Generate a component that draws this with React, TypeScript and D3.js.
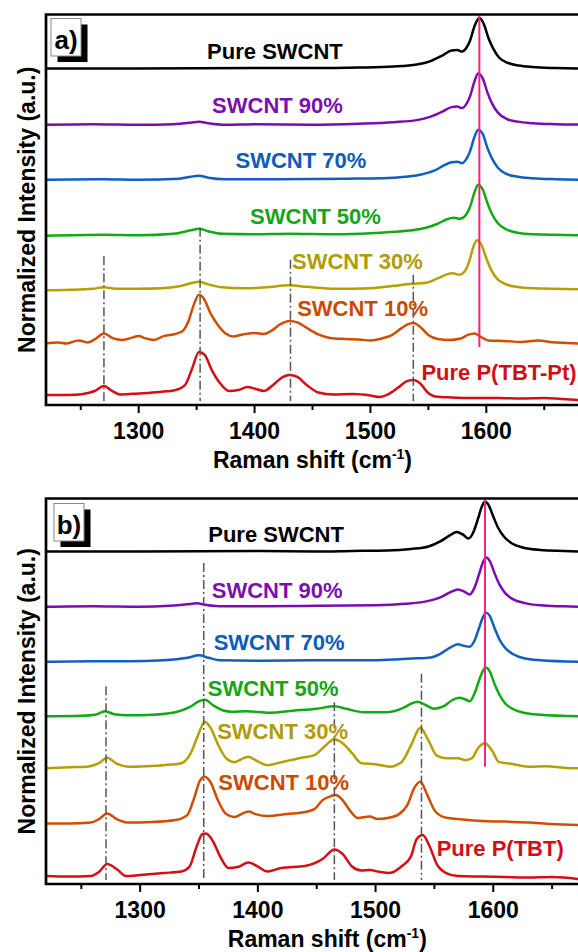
import React from 'react';
import * as d3 from 'd3';

type Pt = [number, number];

// ---------- tick values ----------
const majorTicks = [1300, 1400, 1500, 1600];
const minorTicks = [1250, 1350, 1450, 1550, 1650];

// ---------- panel a spectra: [Raman shift, intensity above own baseline (a.u.)] ----------
const aPureSWCNT: Pt[] = [
  [1220, 0], [1300, 0], [1400, 0.01], [1450, 0.01], [1490, 0.02], [1520, 0.04], [1540, 0.08], [1552, 0.15],
  [1562, 0.26], [1570, 0.36], [1575, 0.37], [1579, 0.34], [1583, 0.42], [1586, 0.56], [1590, 0.86], [1594, 1.01],
  [1598, 0.88], [1602, 0.6], [1606, 0.4], [1611, 0.22], [1618, 0.12], [1628, 0.06], [1640, 0.03], [1660, 0.01], [1680, 0],
];
const aSW90: Pt[] = [
  [1220, 0], [1260, 0.01], [1300, 0], [1330, 0.01], [1345, 0.04], [1352, 0.06], [1360, 0.03], [1375, 0], [1400, 0.01],
  [1450, 0], [1490, 0.02], [1520, 0.05], [1540, 0.09], [1552, 0.16], [1562, 0.26], [1570, 0.35], [1575, 0.36],
  [1579, 0.33], [1583, 0.42], [1586, 0.57], [1590, 0.88], [1593, 1.02], [1597, 0.92], [1601, 0.64], [1605, 0.42],
  [1610, 0.24], [1617, 0.12], [1627, 0.06], [1640, 0.03], [1660, 0.01], [1680, 0],
];
const aSW70: Pt[] = [
  [1220, 0], [1270, 0.01], [1300, 0], [1335, 0.02], [1345, 0.06], [1352, 0.08], [1360, 0.04], [1375, 0.01],
  [1420, 0.01], [1480, 0.02], [1510, 0.03], [1530, 0.06], [1545, 0.11], [1555, 0.18], [1563, 0.28], [1570, 0.35],
  [1575, 0.36], [1579, 0.33], [1583, 0.42], [1586, 0.57], [1590, 0.87], [1593, 1.0], [1597, 0.91], [1601, 0.63],
  [1605, 0.42], [1610, 0.24], [1617, 0.12], [1627, 0.06], [1640, 0.03], [1660, 0.01], [1680, 0],
];
const aSW50: Pt[] = [
  [1220, 0], [1270, 0.02], [1300, 0.01], [1330, 0.04], [1345, 0.11], [1352, 0.14], [1360, 0.09], [1372, 0.04],
  [1400, 0.03], [1430, 0.04], [1470, 0.03], [1500, 0.05], [1520, 0.08], [1536, 0.11], [1548, 0.16], [1558, 0.24],
  [1566, 0.33], [1572, 0.36], [1577, 0.34], [1581, 0.38], [1586, 0.58], [1590, 0.88], [1593, 1.02], [1597, 0.92],
  [1601, 0.65], [1605, 0.43], [1610, 0.25], [1617, 0.13], [1627, 0.06], [1640, 0.03], [1680, 0.01],
];
const aSW30: Pt[] = [
  [1220, 0], [1240, 0.01], [1260, 0.03], [1270, 0.06], [1280, 0.03], [1300, 0.03], [1320, 0.04], [1335, 0.08],
  [1345, 0.14], [1352, 0.17], [1360, 0.12], [1372, 0.06], [1390, 0.04], [1410, 0.06], [1430, 0.1], [1445, 0.07],
  [1470, 0.03], [1500, 0.04], [1520, 0.09], [1536, 0.13], [1548, 0.15], [1558, 0.24], [1566, 0.32], [1571, 0.34],
  [1577, 0.31], [1581, 0.37], [1585, 0.56], [1589, 0.88], [1592, 1.0], [1596, 0.9], [1600, 0.64], [1604, 0.42],
  [1609, 0.24], [1616, 0.13], [1626, 0.07], [1640, 0.04], [1680, 0.02],
];
const aSW10: Pt[] = [
  [1220, 0], [1230, 0.02], [1238, 0], [1248, 0.06], [1256, 0.02], [1262, 0.08], [1270, 0.2], [1278, 0.1],
  [1286, 0.07], [1295, 0.12], [1300, 0.15], [1306, 0.1], [1313, 0.07], [1322, 0.15], [1332, 0.19], [1338, 0.25],
  [1343, 0.45], [1348, 0.8], [1352, 0.97], [1356, 0.9], [1362, 0.6], [1368, 0.38], [1375, 0.2], [1382, 0.14],
  [1390, 0.18], [1400, 0.21], [1408, 0.19], [1415, 0.26], [1422, 0.38], [1430, 0.45], [1437, 0.42], [1445, 0.31],
  [1455, 0.18], [1465, 0.11], [1478, 0.09], [1490, 0.08], [1500, 0.06], [1510, 0.1], [1518, 0.16], [1526, 0.29],
  [1532, 0.38], [1537, 0.41], [1543, 0.33], [1550, 0.17], [1558, 0.09], [1568, 0.07], [1578, 0.1], [1584, 0.17],
  [1590, 0.2], [1596, 0.12], [1602, 0.06], [1615, 0.05], [1630, 0.03], [1645, 0.06], [1655, 0.03], [1670, 0.01], [1680, 0],
];
const aPureP: Pt[] = [
  [1220, 0.1], [1240, 0.1], [1252, 0.12], [1262, 0.18], [1270, 0.28], [1277, 0.18], [1285, 0.11], [1300, 0.13],
  [1318, 0.16], [1332, 0.2], [1340, 0.3], [1346, 0.62], [1352, 0.96], [1357, 0.9], [1363, 0.6], [1370, 0.34],
  [1378, 0.18], [1386, 0.2], [1394, 0.26], [1401, 0.22], [1408, 0.18], [1416, 0.3], [1423, 0.44], [1430, 0.5],
  [1437, 0.46], [1445, 0.3], [1455, 0.15], [1468, 0.11], [1485, 0.12], [1500, 0.09], [1508, 0.06], [1516, 0.12],
  [1524, 0.25], [1531, 0.37], [1537, 0.4], [1543, 0.33], [1549, 0.16], [1556, 0.07], [1570, 0.05], [1590, 0.04],
  [1610, 0.04], [1630, 0.03], [1650, 0.04], [1665, 0.02], [1680, 0],
];

// ---------- panel b spectra ----------
const bPureSWCNT: Pt[] = [
  [1220, 0], [1300, 0], [1400, 0.01], [1450, 0], [1480, 0.01], [1510, 0.02], [1530, 0.05], [1545, 0.1], [1555, 0.2],
  [1563, 0.32], [1569, 0.39], [1574, 0.34], [1579, 0.26], [1583, 0.38], [1587, 0.65], [1590, 0.88], [1593, 1.0],
  [1596, 0.93], [1600, 0.7], [1604, 0.48], [1609, 0.3], [1616, 0.16], [1625, 0.08], [1640, 0.03], [1660, 0.01], [1672, 0],
];
const bSW90: Pt[] = [
  [1220, 0], [1260, 0.01], [1300, 0], [1325, 0.02], [1340, 0.05], [1348, 0.07], [1356, 0.04], [1370, 0.01],
  [1400, 0.01], [1450, 0.02], [1500, 0.03], [1525, 0.06], [1545, 0.12], [1556, 0.2], [1564, 0.3], [1570, 0.35],
  [1575, 0.31], [1580, 0.25], [1584, 0.38], [1588, 0.66], [1591, 0.88], [1594, 0.99], [1597, 0.92], [1601, 0.68],
  [1605, 0.46], [1610, 0.28], [1617, 0.15], [1626, 0.08], [1640, 0.03], [1660, 0.01], [1672, 0],
];
const bSW70: Pt[] = [
  [1220, 0], [1260, 0.01], [1290, 0.01], [1320, 0.03], [1340, 0.08], [1350, 0.13], [1358, 0.08], [1368, 0.03],
  [1400, 0.02], [1450, 0.03], [1500, 0.03], [1520, 0.05], [1535, 0.07], [1545, 0.08], [1555, 0.16], [1563, 0.28],
  [1570, 0.35], [1575, 0.32], [1580, 0.3], [1584, 0.42], [1588, 0.68], [1591, 0.88], [1594, 0.98], [1597, 0.92],
  [1601, 0.68], [1605, 0.46], [1610, 0.28], [1617, 0.15], [1626, 0.07], [1640, 0.03], [1672, 0],
];
const bSW50: Pt[] = [
  [1220, 0], [1250, 0.01], [1262, 0.03], [1270, 0.1], [1278, 0.04], [1290, 0.02], [1310, 0.03], [1330, 0.08],
  [1342, 0.18], [1350, 0.3], [1355, 0.33], [1362, 0.22], [1370, 0.12], [1378, 0.09], [1390, 0.1], [1410, 0.07],
  [1430, 0.11], [1450, 0.15], [1465, 0.2], [1475, 0.15], [1490, 0.08], [1510, 0.08], [1524, 0.17], [1531, 0.26],
  [1536, 0.29], [1542, 0.23], [1550, 0.15], [1558, 0.2], [1565, 0.32], [1571, 0.37], [1576, 0.34], [1580, 0.3],
  [1584, 0.45], [1588, 0.72], [1591, 0.9], [1594, 0.97], [1597, 0.9], [1601, 0.65], [1605, 0.44], [1610, 0.26],
  [1617, 0.14], [1626, 0.07], [1640, 0.03], [1672, 0],
];
const bSW30: Pt[] = [
  [1220, 0], [1240, 0.02], [1255, 0.03], [1265, 0.1], [1272, 0.21], [1280, 0.09], [1290, 0.03], [1305, 0.04],
  [1320, 0.06], [1335, 0.1], [1343, 0.3], [1349, 0.65], [1355, 0.93], [1360, 0.8], [1366, 0.48], [1373, 0.2],
  [1380, 0.12], [1388, 0.2], [1392, 0.23], [1398, 0.16], [1408, 0.06], [1420, 0.12], [1435, 0.2], [1448, 0.26],
  [1456, 0.42], [1465, 0.58], [1472, 0.5], [1480, 0.3], [1488, 0.1], [1500, 0.08], [1512, 0.03], [1522, 0.12],
  [1530, 0.45], [1538, 0.81], [1545, 0.55], [1552, 0.25], [1560, 0.2], [1570, 0.2], [1576, 0.16], [1582, 0.2],
  [1587, 0.4], [1593, 0.5], [1599, 0.35], [1605, 0.12], [1615, 0.09], [1630, 0.03], [1645, 0.04], [1660, 0.01], [1672, 0],
];
const bSW10: Pt[] = [
  [1220, 0.03], [1240, 0.03], [1258, 0.05], [1265, 0.12], [1272, 0.23], [1280, 0.12], [1290, 0.05], [1310, 0.06],
  [1330, 0.1], [1340, 0.2], [1346, 0.55], [1351, 0.9], [1355, 0.97], [1360, 0.85], [1366, 0.5], [1373, 0.22],
  [1380, 0.16], [1386, 0.22], [1392, 0.27], [1398, 0.22], [1408, 0.18], [1425, 0.22], [1440, 0.26], [1448, 0.32],
  [1455, 0.5], [1462, 0.58], [1466, 0.6], [1472, 0.5], [1478, 0.3], [1485, 0.14], [1495, 0.17], [1502, 0.12],
  [1510, 0.14], [1520, 0.22], [1527, 0.4], [1533, 0.75], [1538, 0.87], [1544, 0.6], [1550, 0.3], [1558, 0.16],
  [1570, 0.12], [1590, 0.08], [1610, 0.07], [1630, 0.05], [1650, 0.02], [1672, 0],
];
const bPureP: Pt[] = [
  [1220, 0.06], [1240, 0.05], [1258, 0.06], [1265, 0.14], [1272, 0.3], [1280, 0.2], [1288, 0.06], [1300, 0.08],
  [1320, 0.12], [1335, 0.15], [1342, 0.25], [1348, 0.65], [1353, 0.9], [1356, 0.91], [1362, 0.75], [1368, 0.45],
  [1375, 0.22], [1383, 0.24], [1392, 0.33], [1400, 0.25], [1408, 0.15], [1420, 0.22], [1440, 0.26], [1455, 0.4],
  [1465, 0.59], [1472, 0.5], [1480, 0.25], [1488, 0.17], [1495, 0.18], [1502, 0.15], [1512, 0.12], [1522, 0.25],
  [1530, 0.45], [1535, 0.8], [1540, 0.88], [1546, 0.65], [1552, 0.3], [1560, 0.12], [1570, 0.06], [1590, 0.05],
  [1610, 0.04], [1630, 0.03], [1650, 0.04], [1660, 0.03], [1672, 0],
];

// ---------- series names / colours / vertical offsets ----------
const aNames = ['Pure SWCNT', 'SWCNT 90%', 'SWCNT 70%', 'SWCNT 50%', 'SWCNT 30%', 'SWCNT 10%', 'Pure P(TBT-Pt)'];
const bNames = ['Pure SWCNT', 'SWCNT 90%', 'SWCNT 70%', 'SWCNT 50%', 'SWCNT 30%', 'SWCNT 10%', 'Pure P(TBT)'];
const aData = [aPureSWCNT, aSW90, aSW70, aSW50, aSW30, aSW10, aPureP];
const bData = [bPureSWCNT, bSW90, bSW70, bSW50, bSW30, bSW10, bPureP];
const aOffsets = [6.72, 5.6, 4.5, 3.38, 2.29, 1.23, 0.1];
const bOffsets = [6.66, 5.55, 4.45, 3.36, 2.32, 1.18, 0.1];

// peak-marker lines: Raman shift and top (a.u.)
const aPeakMarks = [1270, 1353, 1431, 1537];
const aPeakTops = [2.97, 3.54, 2.9, 2.6];
const bPeakMarks = [1271, 1354, 1465, 1539];
const bPeakTops = [3.96, 6.43, 3.64, 4.21];
const aGBand = 1594;
const bGBand = 1593;

// ---------- styles / layout ----------
const lineColors = ['#000000', '#7b0cb0', '#0f5fbf', '#12aa12', '#b6a000', '#d04e02', '#d20f14'];
const textColors = ['#000000', '#7a10ad', '#0c5cb8', '#16a516', '#b09c05', '#cc4a00', '#cf1015'];
const FONT = '"Liberation Sans", Arial, Helvetica, sans-serif';

// label anchor positions (Raman shift, a.u.) — layout only
const aLabelPos: Pt[] = [[1417.6, 6.92], [1419.8, 5.84], [1440, 4.73], [1452.6, 3.62], [1488.8, 2.72], [1493.2, 1.78], [1611, 0.5]];
const bLabelPos: Pt[] = [[1415.5, 6.85], [1416.4, 5.73], [1418, 4.69], [1413, 3.76], [1421, 2.91], [1422, 1.88], [1605.9, 0.56]];

interface PanelCfg {
  id: string;
  tag: string;
  top: number;
  bottom: number;
  left: number;
  right: number;
  xDomain: [number, number];
  yDomain: [number, number];
  data: Pt[][];
  names: string[];
  offsets: number[];
  labelPos: Pt[];
  marks: number[];
  markTops: number[];
  gBand: number;
  gBottom: number;
  titleX: number;
  boxX: number;
  boxY: number;
}

const panels: PanelCfg[] = [
  {
    id: 'a', tag: 'a)', top: 14.5, bottom: 405, left: 46, right: 579,
    xDomain: [1220, 1680], yDomain: [0, 7.8],
    data: aData, names: aNames, offsets: aOffsets, labelPos: aLabelPos,
    marks: aPeakMarks, markTops: aPeakTops, gBand: aGBand, gBottom: 1.16,
    titleX: 1450, boxX: 51, boxY: 18.5,
  },
  {
    id: 'b', tag: 'b)', top: 498.5, bottom: 884, left: 46, right: 578,
    xDomain: [1220, 1672], yDomain: [0, 7.72],
    data: bData, names: bNames, offsets: bOffsets, labelPos: bLabelPos,
    marks: bPeakMarks, markTops: bPeakTops, gBand: bGBand, gBottom: 2.35,
    titleX: 1459, boxX: 54, boxY: 503.5,
  },
];

function Panel({ cfg }: { cfg: PanelCfg }) {
  const x = d3.scaleLinear().domain(cfg.xDomain).range([cfg.left, cfg.right]);
  const y = d3.scaleLinear().domain(cfg.yDomain).range([cfg.bottom, cfg.top]);
  const mkLine = (off: number) =>
    d3.line<Pt>().x((d) => x(d[0])).y((d) => y(d[1] + off)).curve(d3.curveMonotoneX);
  const yMid = (cfg.top + cfg.bottom) / 2;
  return (
    <g>
      {/* spectra */}
      {cfg.data.map((ser, i) => (
        <path key={'s' + i} d={mkLine(cfg.offsets[i])(ser) || ''} fill="none" stroke={lineColors[i]}
          strokeWidth={2.5} strokeLinejoin="round" />
      ))}
      {/* peak markers */}
      {cfg.marks.map((m, i) => (
        <line key={'m' + i} x1={x(m)} x2={x(m)} y1={y(cfg.markTops[i])} y2={y(0.08)}
          stroke="#555" strokeWidth={1.5} strokeDasharray="9,3,2,3" />
      ))}
      {/* G band line */}
      <line x1={x(cfg.gBand)} x2={x(cfg.gBand)} y1={y(cfg.yDomain[1])} y2={y(cfg.gBottom)}
        stroke="#ff1e82" strokeWidth={2} />
      {/* series labels */}
      {cfg.names.map((n, i) => (
        <text key={'l' + i} x={x(cfg.labelPos[i][0])} y={y(cfg.labelPos[i][1])} textAnchor="middle"
          fontFamily={FONT} fontWeight="bold" fontSize={22} fill={textColors[i]}>{n}</text>
      ))}
      {/* frame */}
      <path d={`M${cfg.right + 5},${cfg.top} H${cfg.left} V${cfg.bottom} H${cfg.right + 5}`}
        fill="none" stroke="#000" strokeWidth={2.7} strokeLinecap="square" />
      {/* ticks */}
      {majorTicks.map((t) => (
        <g key={'t' + t}>
          <line x1={x(t)} x2={x(t)} y1={cfg.bottom} y2={cfg.bottom + 8} stroke="#000" strokeWidth={2} />
          <text x={x(t)} y={cfg.bottom + 34} textAnchor="middle" fontFamily={FONT} fontWeight="bold"
            fontSize={23} fill="#000">{t}</text>
        </g>
      ))}
      {minorTicks.map((t) => (
        <line key={'n' + t} x1={x(t)} x2={x(t)} y1={cfg.bottom} y2={cfg.bottom + 5} stroke="#000" strokeWidth={2} />
      ))}
      {/* axis titles */}
      <text x={x(cfg.titleX)} y={cfg.bottom + 63} textAnchor="middle" fontFamily={FONT} fontWeight="bold"
        fontSize={23} fill="#000">
        Raman shift (cm<tspan fontSize={14} dy={-9}>-1</tspan><tspan dy={9}>)</tspan>
      </text>
      <text transform={`translate(35,${yMid}) rotate(-90)`} textAnchor="middle" fontFamily={FONT}
        fontWeight="bold" fontSize={23} fill="#000">Normalized Intensity (a.u.)</text>
      {/* panel tag box */}
      <rect x={cfg.boxX + 6.5} y={cfg.boxY + 6} width={30} height={37.5} fill="#000" />
      <rect x={cfg.boxX} y={cfg.boxY} width={30} height={37.5} fill="#fff" stroke="#888" strokeWidth={1} />
      <text x={cfg.boxX + 15} y={cfg.boxY + 30} textAnchor="middle" fontFamily={FONT} fontWeight="bold"
        fontSize={26} fill="#000">{cfg.tag}</text>
    </g>
  );
}

export default function App() {
  return (
    <svg width={578} height={952} viewBox="0 0 578 952"
      style={{ position: 'absolute', left: 0, top: 0, background: '#fff' }}>
      <rect x={0} y={0} width={578} height={952} fill="#fff" />
      {panels.map((p) => <Panel key={p.id} cfg={p} />)}
    </svg>
  );
}
